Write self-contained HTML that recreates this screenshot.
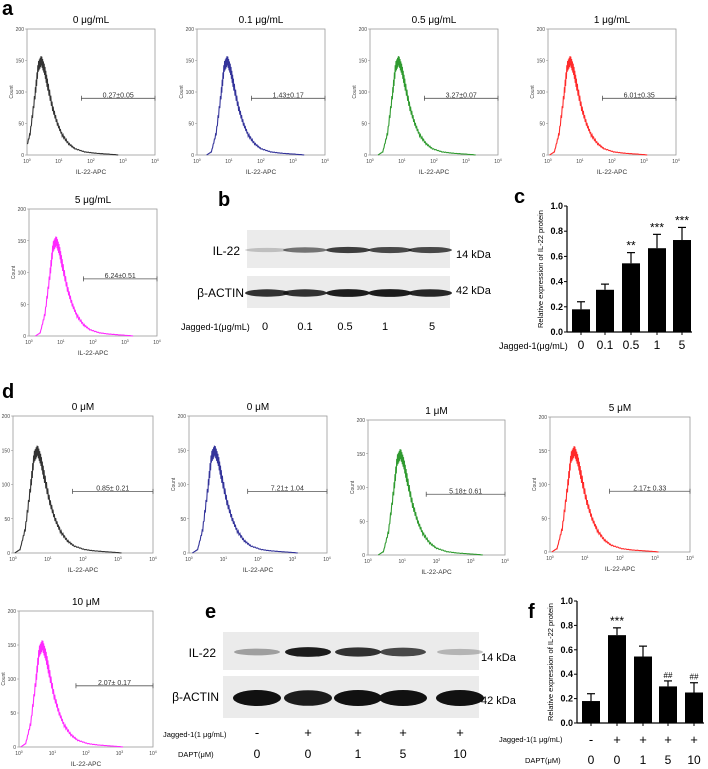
<!DOCTYPE html>
<html><head><meta charset="utf-8">
<style>
html,body{margin:0;padding:0;background:#fff;}
svg{display:block;font-family:"Liberation Sans",Arial,sans-serif;}
</style></head>
<body>
<svg id="fig" width="708" height="769" viewBox="0 0 708 769" xmlns="http://www.w3.org/2000/svg"></svg>
<script>
// ---- histogram data ----
const histLogX   = [0,0.15,0.3,0.45,0.55,0.65,0.75,0.85,1.0,1.15,1.3,1.5,1.7,2.0,2.3,2.7,3.1];
const histCounts = [0,5,35,95,140,150,135,110,75,50,32,18,10,5,3,1.5,0];
const histPeaksA = [-0.2,0.3,0.25,0.05,0.2];   // shift of log position per panel a
const histPeaksD = [0.05,0.1,0.3,0.05,0.05];
const gateLabelsA = ["0.27±0.05","1.43±0.17","3.27±0.07","6.01±0.35","6.24±0.51"];
const gateLabelsD = ["0.85± 0.21","7.21± 1.04","5.18± 0.61","2.17± 0.33","2.07± 0.17"];
const titlesA = ["0 μg/mL","0.1 μg/mL","0.5 μg/mL","1 μg/mL","5 μg/mL"];
const titlesD = ["0 μM","0 μM","1 μM","5 μM","10 μM"];
const gateCount = [90,90,90,90,90];
// ---- bar chart c ----
const catsC = ["0","0.1","0.5","1","5"];
const valsC = [0.18,0.335,0.545,0.665,0.73];
const errsC = [0.06,0.045,0.085,0.11,0.10];
const sigC  = ["","","**","***","***"];
// ---- bar chart f ----
const jagF  = ["-","+","+","+","+"];
const daptF = ["0","0","1","5","10"];
const valsF = [0.18,0.72,0.545,0.30,0.25];
const errsF = [0.06,0.06,0.085,0.045,0.08];
const sigF  = ["","***","","##","##"];
const yTicks = [0,0.2,0.4,0.6,0.8,1.0];
// ---- blot band intensities ----
const blotB_IL = [0.2,0.55,0.8,0.75,0.75];
const blotB_AC = [0.85,0.85,0.95,0.95,0.9];
const blotE_IL = [0.35,0.95,0.85,0.75,0.25];
const blotE_AC = [1,0.95,1,1,1];

const NS="http://www.w3.org/2000/svg";
const svg=document.getElementById('fig');
function el(tag,attrs,parent){const e=document.createElementNS(NS,tag);for(const k in attrs)e.setAttribute(k,attrs[k]);(parent||svg).appendChild(e);return e;}
function txt(s,x,y,size,anchor,parent,extra){const t=el('text',Object.assign({x:x,y:y,'font-size':size,'text-anchor':anchor||'middle',fill:'#000'},extra||{}),parent);t.textContent=s;return t;}

function hist(x0,y0,x1,y1,color,title,gate,shift,name){
  const g=el('g',{});
  
  
  const W=x1-x0,H=y1-y0;
  const sx=l=>x0+l/4*W, sy=c=>y1-c/200*H;
  el('rect',{x:x0,y:y0,width:W,height:H,fill:'none',stroke:'#999','stroke-width':0.8},g);
  txt(title,(x0+x1)/2,y0-6,10,'middle',g);
  [0,50,100,150,200].forEach(v=>{txt(String(v),x0-3,sy(v)+2,5,'end',g,{fill:'#444'});el('line',{x1:x0-2,x2:x0,y1:sy(v),y2:sy(v),stroke:'#888','stroke-width':0.5},g);});
  for(let i=0;i<=4;i++){const t=txt('10',sx(i),y1+8,5,'middle',g,{fill:'#444'});const s=el('tspan',{dy:-2,'font-size':3.5},t);s.textContent=String(i);}
  txt('IL-22-APC',(x0+x1)/2,y1+19,6.5,'middle',g,{fill:'#333'});
  txt('Count',x0-14,(y0+y1)/2,5,'middle',g,{transform:`rotate(-90 ${x0-14} ${(y0+y1)/2})`,fill:'#444'});
  let pts=[];
  for(let i=0;i<histLogX.length-1;i++){
    for(let k=0;k<8;k++){
      const f=k/8,l=histLogX[i]+(histLogX[i+1]-histLogX[i])*f+shift;
      let c=histCounts[i]+(histCounts[i+1]-histCounts[i])*f;
      c+=((i*8+k)%2?1:-1)*Math.min(8,c*0.07);
      if(l>=0&&l<=4)pts.push(sx(l).toFixed(1)+','+sy(Math.max(0,c)).toFixed(1));
    }
  }
  const p=el('polyline',{points:pts.join(' '),fill:'none',stroke:color,'stroke-width':1.1},g);
  
  
  const gl=sx(1.7),gy=sy(90);
  el('line',{x1:gl,x2:x1,y1:gy,y2:gy,stroke:'#555','stroke-width':0.8},g);
  el('line',{x1:gl,x2:gl,y1:gy-2.5,y2:gy+2.5,stroke:'#555','stroke-width':0.8},g);
  el('line',{x1:x1,x2:x1,y1:gy-2.5,y2:gy+2.5,stroke:'#555','stroke-width':0.8},g);
  txt(gate,(gl+x1)/2,gy-1,7,'middle',g,{fill:'#333'});
}
const colors=['#333','#33339a','#2f9a2f','#ff2a2a','#ff2aff'];
const boxesA=[[27,29,155,155],[197,29,325,155],[370,29,498,155],[548,29,676,155],[29,209,157,336]];
const boxesD=[[13,416,153,553],[189,416,327,553],[368,420,505,555],[550,417,690,552],[19,611,153,747]];
boxesA.forEach((b,i)=>hist(b[0],b[1],b[2],b[3],colors[i],titlesA[i],gateLabelsA[i],histPeaksA[i],'histogram-a-'+i));
boxesD.forEach((b,i)=>hist(b[0],b[1],b[2],b[3],colors[i],titlesD[i],gateLabelsD[i],histPeaksD[i],'histogram-d-'+i));

function label(s,x,y,name){const t=txt(s,x,y,20,'start',null,{'font-weight':'bold'});}
label('a',2,15,'panel-label-a');label('b',218,206,'panel-label-b');label('c',514,203,'panel-label-c');
label('d',2,398,'panel-label-d');label('e',205,618,'panel-label-e');label('f',528,618,'panel-label-f');

// blots
function blot(x0,x1,y0,y1,lanes,ints,name,thick,rx){
  const g=el('g',{});
  el('rect',{x:x0,y:y0,width:x1-x0,height:y1-y0,fill:'#ebebeb'},g);
  lanes.forEach((cx,i)=>{const a=ints[i];el('ellipse',{cx:cx,cy:(y0+y1)/2+1,rx:rx,ry:thick*(0.5+a*0.5),fill:'#111','fill-opacity':a},g);});
}
const lanesB=[267,305,348,390,430], lanesE=[257,308,358,403,460];
blot(247,450,230,268,lanesB,blotB_IL,'blot-b-il22',3.5,22);
blot(247,450,276,308,lanesB,blotB_AC,'blot-b-actin',4,22);
blot(223,479,632,670,lanesE,blotE_IL,'blot-e-il22',5,23);
blot(223,479,676,718,lanesE,blotE_AC,'blot-e-actin',8,24);
txt('IL-22',240,255,12,'end');txt('β-ACTIN',244,297,12,'end');
txt('14 kDa',456,258,11,'start');txt('42 kDa',456,294,11,'start');
txt('Jagged-1(μg/mL)',181,330,9,'start');
['0','0.1','0.5','1','5'].forEach((s,i)=>txt(s,[265,305,345,385,432][i],330,11));
txt('IL-22',216,657,12,'end');txt('β-ACTIN',219,701,12,'end');
txt('14 kDa',481,661,11,'start');txt('42 kDa',481,704,11,'start');
txt('Jagged-1(1 μg/mL)',163,737,7.5,'start');txt('DAPT(μM)',178,757,7.5,'start');
jagF.forEach((s,i)=>txt(s,lanesE[i],737,13));
daptF.forEach((s,i)=>txt(s,lanesE[i],758,12));

// bar charts
function bars(ax,y0,y1,xr,centers,vals,errs,sig,name){
  const g=el('g',{});
  const sy=v=>y1-v*(y1-y0);
  el('line',{x1:ax,x2:ax,y1:y0,y2:y1,stroke:'#000','stroke-width':1.2},g);
  el('line',{x1:ax,x2:xr,y1:y1,y2:y1,stroke:'#000','stroke-width':1.2},g);
  yTicks.forEach(v=>{el('line',{x1:ax-3,x2:ax,y1:sy(v),y2:sy(v),stroke:'#000','stroke-width':1},g);txt(v.toFixed(1),ax-4,sy(v)+3,9,'end',g,{'font-weight':'bold'});});
  centers.forEach((c,i)=>{
    el('line',{x1:c,x2:c,y1:y1,y2:y1+3,stroke:'#000'},g);
    const b=el('rect',{x:c-9,y:sy(vals[i]),width:18,height:sy(0)-sy(vals[i]),fill:'#000'},g);
    
    const te=sy(vals[i]+errs[i]);
    el('line',{x1:c,x2:c,y1:sy(vals[i]),y2:te,stroke:'#000','stroke-width':1.2},g);
    el('line',{x1:c-4,x2:c+4,y1:te,y2:te,stroke:'#000','stroke-width':1.2},g);
    if(sig[i])txt(sig[i],c,te-3,sig[i][0]=='#'?8:12,'middle',g);
  });
  txt('Relative expression of IL-22 protein',ax-24,(y0+y1)/2,7.5,'middle',g,{transform:`rotate(-90 ${ax-24} ${(y0+y1)/2})`});
}
const centC=[581,605,631,657,682], centF=[591,617,643,668,694];
bars(567,206,332,692,centC,valsC,errsC,sigC,'bar-chart-c');
bars(577,601,723,704,centF,valsF,errsF,sigF,'bar-chart-f');
txt('Jagged-1(μg/mL)',499,349,9,'start');
catsC.forEach((s,i)=>txt(s,centC[i],349,12));
txt('Jagged-1(1 μg/mL)',499,742,7.5,'start');txt('DAPT(μM)',525,763,7.5,'start');
jagF.forEach((s,i)=>txt(s,centF[i],744,13));
daptF.forEach((s,i)=>txt(s,centF[i],764,12));
</script>
</body></html>
